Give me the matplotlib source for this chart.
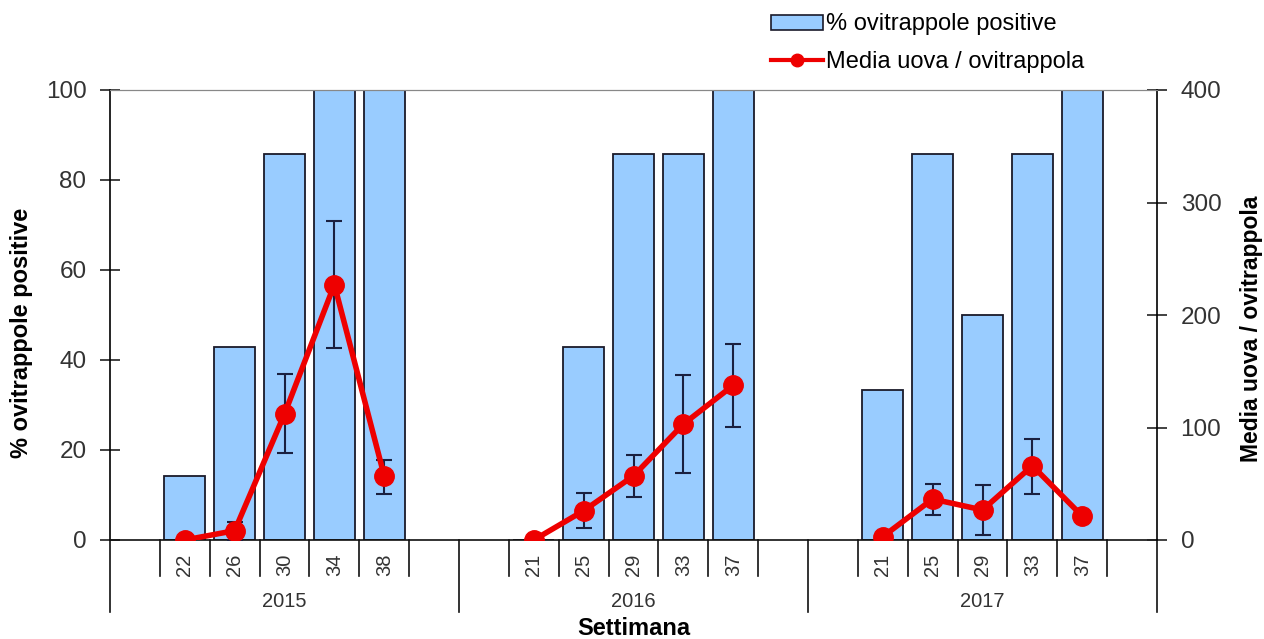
import matplotlib
matplotlib.use('Agg')
import matplotlib.pyplot as plt
import matplotlib.transforms as mtransforms
import numpy as np

plt.rcParams['font.family'] = ['Liberation Sans', 'DejaVu Sans']

years = ['2015', '2016', '2017']
weeks = [
    ['22', '26', '30', '34', '38'],
    ['21', '25', '29', '33', '37'],
    ['21', '25', '29', '33', '37'],
]
pct_positive = [
    [14.3, 42.9, 85.7, 100.0, 100.0],
    [0.0, 42.9, 85.7, 85.7, 100.0],
    [33.3, 85.7, 50.0, 85.7, 100.0],
]
mean_eggs = [
    [0.0, 8.3, 112.0, 227.0, 57.0],
    [0.0, 26.0, 57.0, 103.0, 137.5],
    [3.0, 36.4, 26.7, 66.0, 21.3],
]
err_low = [
    [0.0, 8.3, 35.0, 56.0, 15.8],
    [0.0, 15.6, 18.4, 43.0, 37.4],
    [0.0, 14.5, 22.0, 24.8, 0.0],
]
err_high = [
    [0.0, 8.0, 36.0, 57.0, 14.0],
    [0.0, 15.5, 18.6, 43.7, 36.7],
    [0.0, 13.6, 22.2, 23.5, 0.0],
]

SLOTS = 7  # 5 weeks plus one empty slot on each side of every year

fig = plt.figure(figsize=(12.64, 6.39), dpi=100)
ax = fig.add_axes([110 / 1264, 99 / 639, 1047 / 1264, 450 / 639])
ax2 = ax.twinx()

bar_color = '#99ccff'
line_color = '#ee0000'

for g, year in enumerate(years):
    xs = g * SLOTS + np.arange(1, 6)
    ax.bar(xs, pct_positive[g], width=0.82, color=bar_color,
           edgecolor='#1a1a2a', linewidth=1.3, zorder=2)
    ax2.errorbar(xs, mean_eggs[g], yerr=[err_low[g], err_high[g]],
                 fmt='none', ecolor='#1a2040', elinewidth=1.5, capsize=6,
                 capthick=1.5, zorder=3)
    ax2.plot(xs, mean_eggs[g], color=line_color, lw=4, marker='o',
             markersize=14, markerfacecolor=line_color,
             markeredgecolor=line_color, zorder=4)

n_slots = SLOTS * len(years)
ax.set_xlim(-0.5, n_slots - 0.5)
ax.set_ylim(0, 100)
ax2.set_ylim(0, 400)
ax.set_zorder(ax2.get_zorder() - 1)
ax2.patch.set_visible(False)

ax.set_yticks([0, 20, 40, 60, 80, 100])
ax2.set_yticks([0, 100, 200, 300, 400])
for a in (ax, ax2):
    a.tick_params(axis='y', direction='inout', length=14, width=1.2,
                  labelsize=17.5, colors='#222222', labelcolor='#333333', pad=10)
ax.set_xticks([])

for a in (ax, ax2):
    a.spines['bottom'].set_visible(False)
    a.spines['top'].set_color('#888888')
    a.spines['top'].set_linewidth(0.8)
ax.spines['left'].set_linewidth(1.2)
ax2.spines['right'].set_linewidth(1.2)
ax.spines['right'].set_visible(False)
ax2.spines['left'].set_visible(False)

ax.set_ylabel('% ovitrappole positive', fontsize=17, fontweight='bold')
ax2.set_ylabel('Media uova / ovitrappola', fontsize=16.5, fontweight='bold')
ax.yaxis.set_label_coords(-0.074, 0.46)
ax2.yaxis.set_label_coords(1.079, 0.47)

# categorical x axis drawn by hand: weeks inside years
trans = mtransforms.blended_transform_factory(ax.transData, ax.transAxes)
ax.plot([-0.5, n_slots - 0.5], [0, 0], color='#111111', lw=1.2,
        transform=trans, clip_on=False, zorder=5)
for g, year in enumerate(years):
    base = g * SLOTS
    for k in range(6):
        xb = base + k + 0.5
        ax.plot([xb, xb], [0, -0.08], color='#111111', lw=1.2,
                transform=trans, clip_on=False)
    for k, wk in enumerate(weeks[g]):
        ax.text(base + k + 1, -0.056, wk, rotation=90, ha='center', va='center',
                fontsize=14.5, color='#333333', transform=trans)
    ax.text(base + 3, -0.136, year, ha='center', va='center',
            fontsize=14.5, color='#333333', transform=trans)
for g in range(len(years) + 1):
    xb = g * SLOTS - 0.5
    ax.plot([xb, xb], [0, -0.16], color='#111111', lw=1.2,
            transform=trans, clip_on=False)
ax.text(0.5, -0.196, 'Settimana', ha='center', va='center', fontsize=17,
        fontweight='bold', transform=ax.transAxes)

bar_handle = plt.Rectangle((0, 0), 1, 1, facecolor=bar_color,
                           edgecolor='#1a1a2a', linewidth=1.2)
line_handle = plt.Line2D([], [], color=line_color, lw=3, marker='o',
                         markersize=9)
fig.legend([bar_handle, line_handle],
           ['% ovitrappole positive', 'Media uova / ovitrappola'],
           loc='upper left', bbox_to_anchor=(762 / 1264, 1 - 4 / 639),
           frameon=False, fontsize=17, handlelength=2.2, handleheight=0.6,
           handletextpad=0.1, labelspacing=0.65, borderaxespad=0)

fig.savefig('out.png', dpi=100)
